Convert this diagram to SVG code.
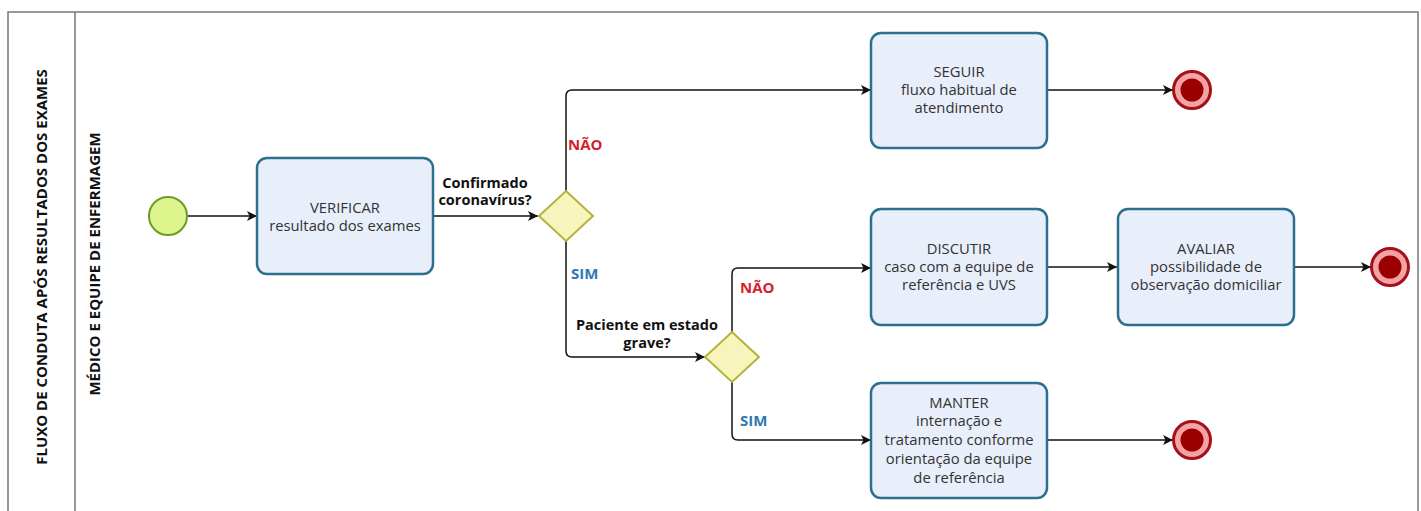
<svg xmlns="http://www.w3.org/2000/svg" width="1421" height="511" viewBox="0 0 1421 511">
<style>
.task{fill:#e9eefb;stroke:#2d6f8f;stroke-width:2.5}
.gw{fill:#f7f5bb;stroke:#b3b23c;stroke-width:2}
.start{fill:#ddf58c;stroke:#6f9a2a;stroke-width:2}
.t{font-family:"Open Sans","Noto Sans",sans-serif;font-size:14.8px;fill:#333;text-anchor:middle}
.b{font-family:"Open Sans","Noto Sans",sans-serif;font-size:14.5px;font-weight:bold;fill:#111;text-anchor:middle}
.lane{font-family:"Open Sans","Noto Sans",sans-serif;font-size:15px;font-weight:bold;fill:#111;text-anchor:middle}
.no{font-family:"Open Sans","Noto Sans",sans-serif;font-size:15px;font-weight:bold;fill:#d21f2b}
.yes{font-family:"Open Sans","Noto Sans",sans-serif;font-size:15px;font-weight:bold;fill:#2f78b4}
.c{fill:none;stroke:#111;stroke-width:1.5;marker-end:url(#arr)}
</style>
<defs>
<marker id="arr" viewBox="0 0 10 10" refX="10" refY="5" markerWidth="10" markerHeight="10" markerUnits="userSpaceOnUse" orient="auto">
<path d="M0,0 L10,5 L0,10 L2.5,5 z" fill="#111"/>
</marker>
<g id="endev">
<circle r="18.5" fill="#f3a3a3" stroke="#a3101a" stroke-width="3"/>
<circle r="11.5" fill="#9a0000"/>
</g>
</defs>
<rect width="1421" height="511" fill="#fff"/>
<g id="pool">
<path d="M8,520 V12 H1418 V520" fill="none" stroke="#777" stroke-width="1.5"/>
<line x1="75" y1="12" x2="75" y2="520" stroke="#777" stroke-width="1.5"/>
<text class="lane" transform="translate(47,267) rotate(-90)">FLUXO DE CONDUTA APÓS RESULTADOS DOS EXAMES</text>
<text class="lane" transform="translate(100,264) rotate(-90)">MÉDICO E EQUIPE DE ENFERMAGEM</text>
</g>
<g id="connectors">
<path class="c" d="M188,216 H257"/>
<path class="c" d="M433,216 H538"/>
<path class="c" d="M566,191 V96 Q566,90 572,90 H871"/>
<path class="c" d="M566,241 V351 Q566,357 572,357 H705"/>
<path class="c" d="M1047,90 H1173"/>
<path class="c" d="M732,332 V274 Q732,268 738,268 H871"/>
<path class="c" d="M732,382 V434 Q732,440 738,440 H871"/>
<path class="c" d="M1047,267 H1117"/>
<path class="c" d="M1295,267 H1371"/>
<path class="c" d="M1047,440 H1173"/>
<text class="b" x="485" y="188">Confirmado</text>
<text class="b" x="485" y="205">coronavírus?</text>
<text class="no" x="568" y="150">NÃO</text>
<text class="yes" x="571" y="279">SIM</text>
<text class="b" x="647" y="330">Paciente em estado</text>
<text class="b" x="647" y="348">grave?</text>
<text class="no" x="740" y="293">NÃO</text>
<text class="yes" x="740" y="426">SIM</text>
</g>
<g id="start"><circle class="start" cx="168" cy="216" r="19"/></g>
<g id="verificar">
<rect class="task" x="257" y="158" width="176" height="116" rx="10"/>
<text class="t" x="345" y="213">VERIFICAR</text>
<text class="t" x="345" y="231">resultado dos exames</text>
</g>
<g id="gw1"><path class="gw" d="M566,191 L593,216 L566,241 L539,216 Z"/></g>
<g id="seguir">
<rect class="task" x="871" y="33" width="176" height="115" rx="10"/>
<text class="t" x="959" y="77">SEGUIR</text>
<text class="t" x="959" y="95">fluxo habitual de</text>
<text class="t" x="959" y="113">atendimento</text>
</g>
<g id="end1"><use href="#endev" x="1192" y="90"/></g>
<g id="gw2"><path class="gw" d="M732,332 L759,357 L732,382 L705,357 Z"/></g>
<g id="discutir">
<rect class="task" x="871" y="209" width="176" height="116" rx="10"/>
<text class="t" x="959" y="254">DISCUTIR</text>
<text class="t" x="959" y="272">caso com a equipe de</text>
<text class="t" x="959" y="290">referência e UVS</text>
</g>
<g id="avaliar">
<rect class="task" x="1118" y="209" width="176" height="116" rx="10"/>
<text class="t" x="1206" y="254">AVALIAR</text>
<text class="t" x="1206" y="272">possibilidade de</text>
<text class="t" x="1206" y="290">observação domiciliar</text>
</g>
<g id="end2"><use href="#endev" x="1390" y="267"/></g>
<g id="manter">
<rect class="task" x="871" y="383" width="176" height="115" rx="10"/>
<text class="t" x="959" y="408">MANTER</text>
<text class="t" x="959" y="426">internação e</text>
<text class="t" x="959" y="445">tratamento conforme</text>
<text class="t" x="959" y="464">orientação da equipe</text>
<text class="t" x="959" y="483">de referência</text>
</g>
<g id="end3"><use href="#endev" x="1192" y="440"/></g>
</svg>
